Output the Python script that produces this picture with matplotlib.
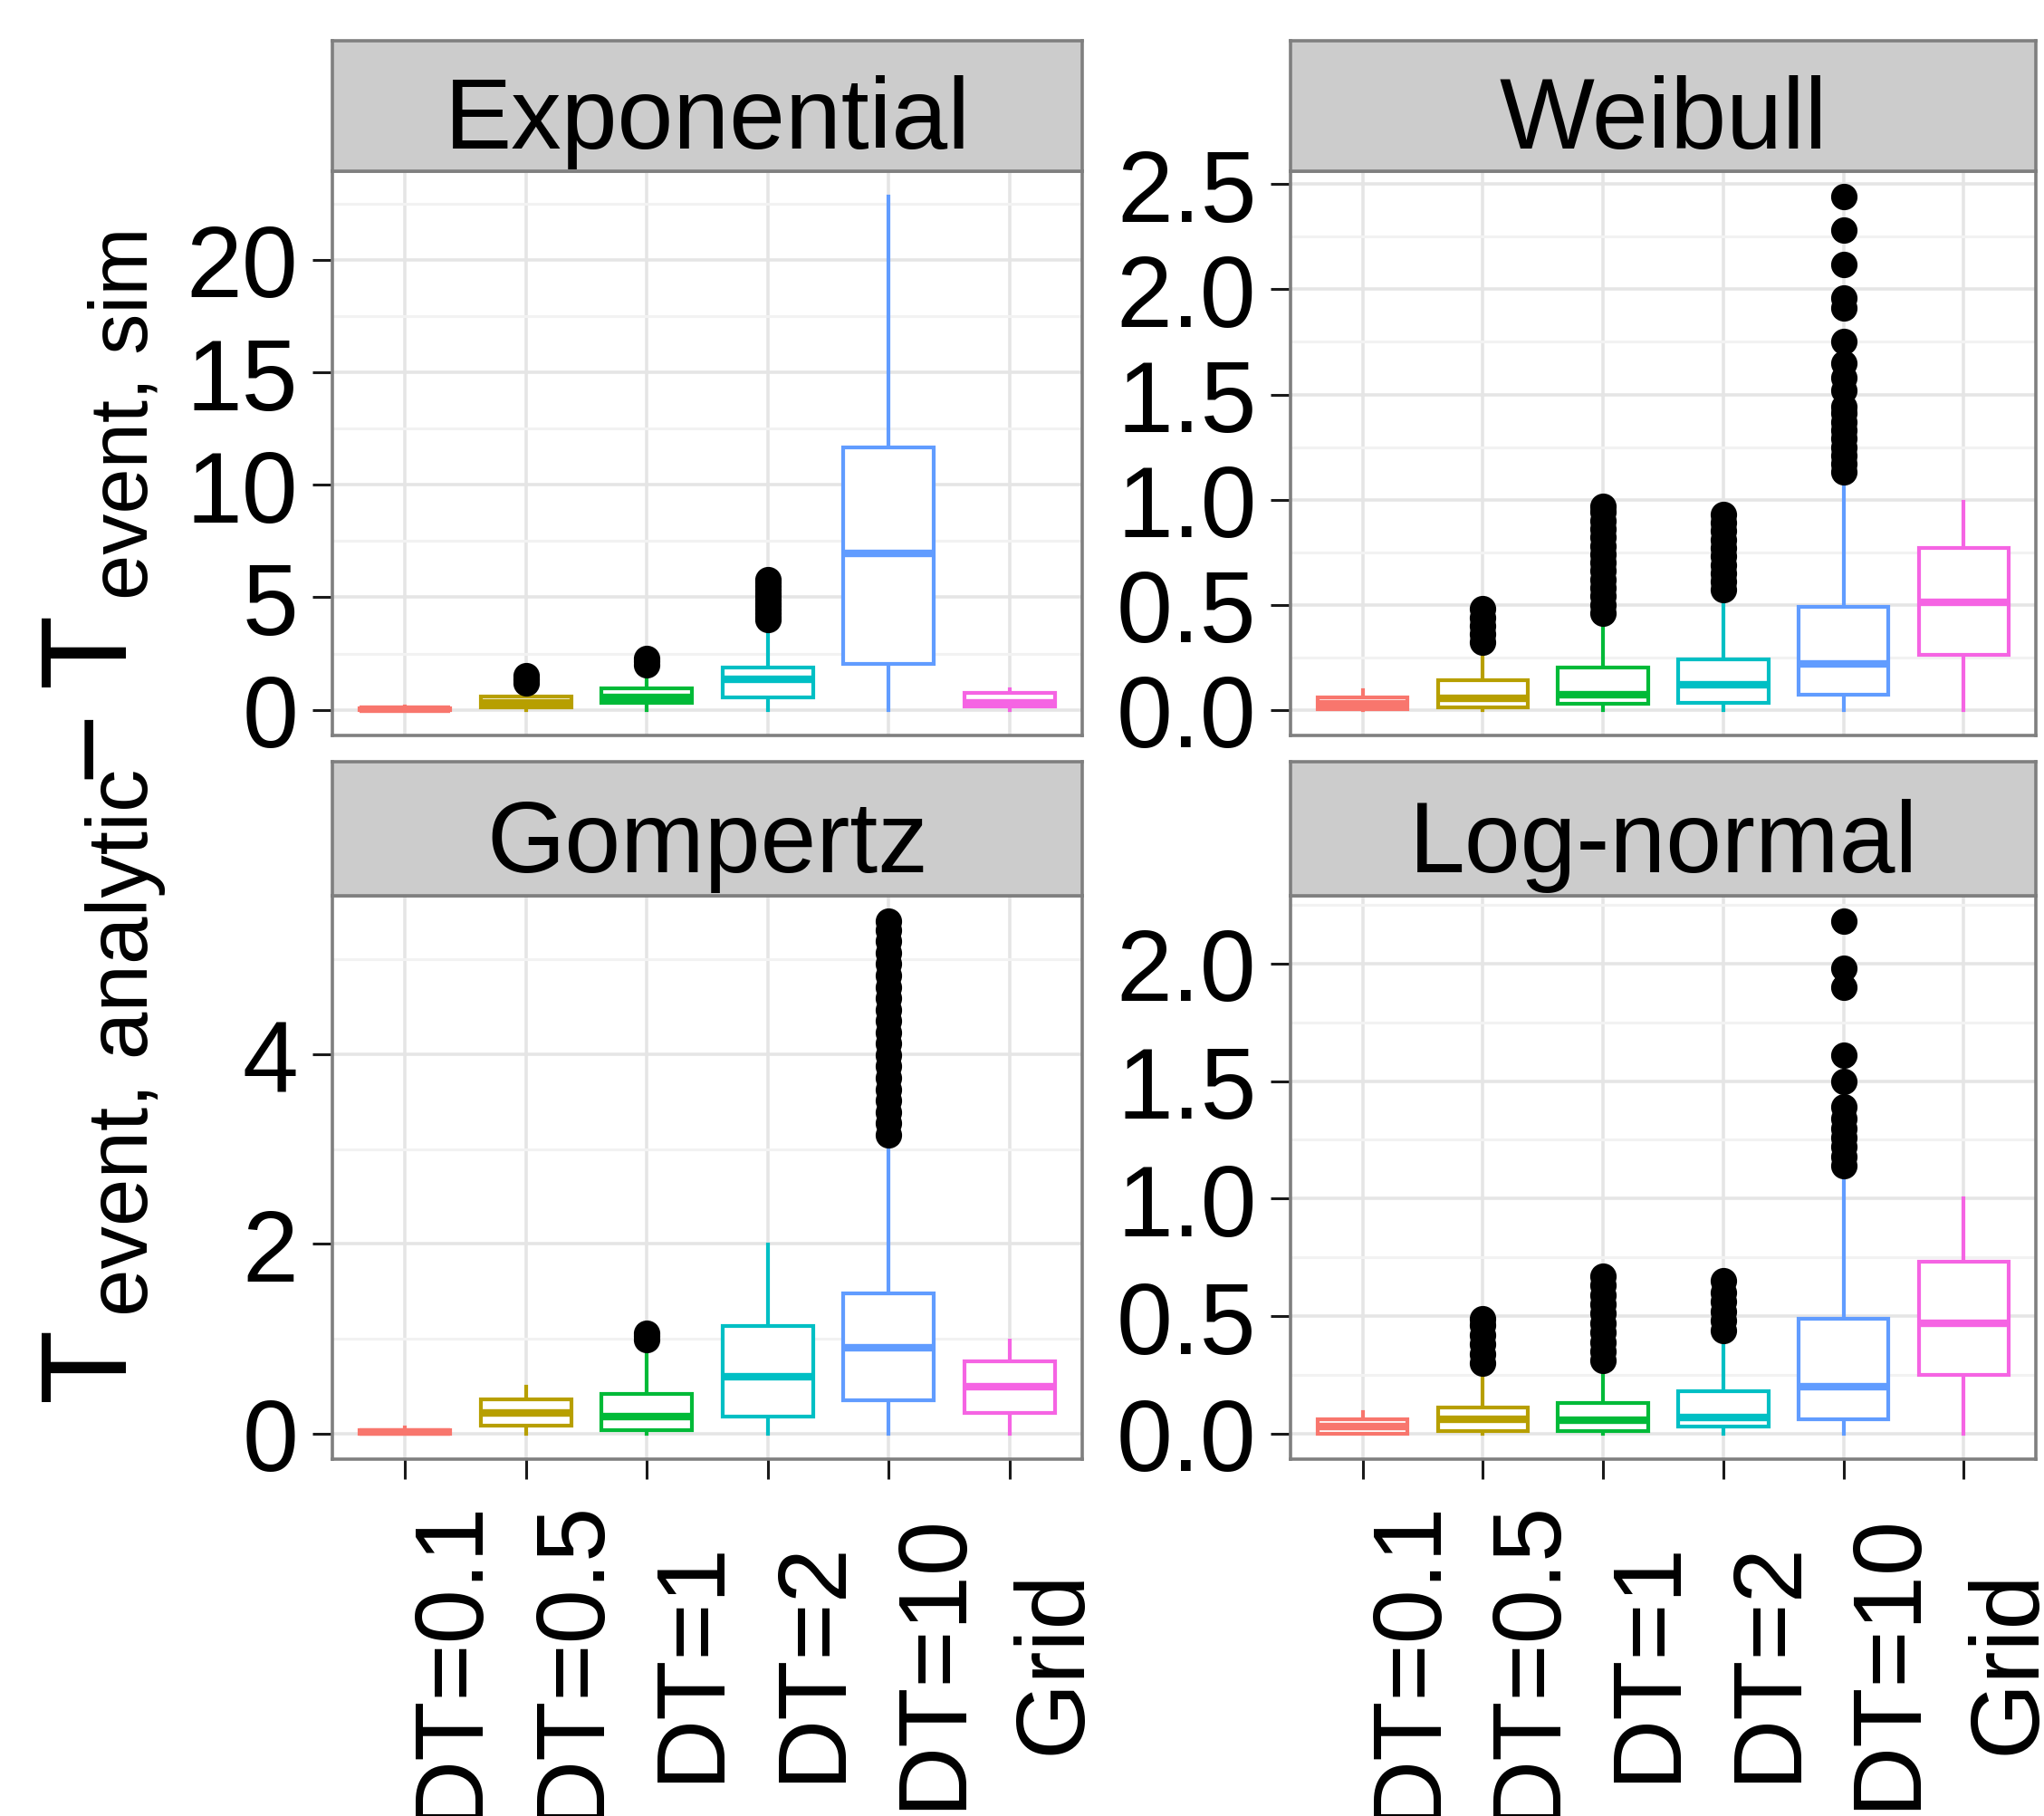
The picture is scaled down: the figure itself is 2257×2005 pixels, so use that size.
import numpy as np
import matplotlib
matplotlib.use('Agg')
import matplotlib.pyplot as plt
from matplotlib.ticker import MultipleLocator

plt.rcParams['font.family'] = ['Liberation Sans', 'DejaVu Sans']

# categories
methods = ['DT=0.1', 'DT=0.5', 'DT=1', 'DT=2', 'DT=10', 'Grid']
colors = ['#F8766D', '#B79F00', '#00BA38', '#00BFC4', '#619CFF', '#F564E3']

# Exponential - box stats per method
exp_q1 = [0.0, 0.12, 0.3, 0.55, 2.03, 0.16]
exp_med = [0.03, 0.3, 0.55, 1.35, 6.96, 0.31]
exp_q3 = [0.08, 0.6, 0.95, 1.89, 11.65, 0.77]
exp_lo = [0, 0, 0, 0, 0, 0]
exp_hi = [0.15, 1.15, 1.9, 3.9, 22.8, 0.9]
exp_out = [[], [1.2, 1.3, 1.4, 1.5], [2.0, 2.15, 2.3],
           [4.0, 4.15, 4.3, 4.45, 4.6, 4.75, 4.9, 5.05, 5.2, 5.35, 5.5, 5.65, 5.8],
           [], []]

# Weibull
wei_q1 = [0.005, 0.01, 0.03, 0.035, 0.07, 0.26]
wei_med = [0.03, 0.056, 0.07, 0.12, 0.22, 0.51]
wei_q3 = [0.06, 0.14, 0.2, 0.24, 0.49, 0.77]
wei_lo = [0, 0, 0, 0, 0, 0]
wei_hi = [0.094, 0.28, 0.44, 0.54, 1.09, 0.99]
wei_out = [[], [0.32, 0.36, 0.40, 0.44, 0.48],
           [0.46, 0.5, 0.54, 0.58, 0.62, 0.66, 0.7, 0.74, 0.78, 0.82, 0.86, 0.9, 0.94, 0.97],
           [0.57, 0.61, 0.65, 0.69, 0.73, 0.77, 0.81, 0.85, 0.89, 0.93],
           [1.13, 1.17, 1.21, 1.25, 1.29, 1.33, 1.37, 1.41, 1.44, 1.52, 1.58, 1.65,
            1.75, 1.91, 1.96, 2.12, 2.28, 2.44],
           []]

# Gompertz
gom_q1 = [0.0, 0.08, 0.04, 0.18, 0.35, 0.22]
gom_med = [0.02, 0.22, 0.18, 0.6, 0.9, 0.49]
gom_q3 = [0.04, 0.36, 0.42, 1.13, 1.48, 0.76]
gom_lo = [0, 0, 0, 0, 0, 0]
gom_hi = [0.06, 0.49, 0.94, 1.99, 3.13, 0.98]
gom_out = [[], [], [0.99, 1.03, 1.06], [],
           [3.15, 3.27, 3.39, 3.51, 3.63, 3.75, 3.87, 3.99, 4.11, 4.23, 4.35, 4.47,
            4.59, 4.71, 4.83, 4.95, 5.07, 5.19, 5.31, 5.4],
           []]

# Log-normal
log_q1 = [0.0, 0.01, 0.01, 0.03, 0.06, 0.25]
log_med = [0.03, 0.06, 0.055, 0.07, 0.2, 0.47]
log_q3 = [0.06, 0.11, 0.13, 0.18, 0.49, 0.73]
log_lo = [0, 0, 0, 0, 0, 0]
log_hi = [0.09, 0.26, 0.27, 0.4, 1.08, 1.0]
log_out = [[], [0.3, 0.34, 0.38, 0.42, 0.46, 0.49],
           [0.31, 0.35, 0.39, 0.43, 0.47, 0.51, 0.55, 0.59, 0.63, 0.67],
           [0.44, 0.48, 0.52, 0.56, 0.6, 0.65],
           [1.14, 1.18, 1.22, 1.26, 1.3, 1.34, 1.39, 1.5, 1.61, 1.9, 1.98, 2.18],
           []]

panels = [
    ('Exponential', exp_q1, exp_med, exp_q3, exp_lo, exp_hi, exp_out, [0, 5, 10, 15, 20], '%d'),
    ('Weibull', wei_q1, wei_med, wei_q3, wei_lo, wei_hi, wei_out, [0, 0.5, 1, 1.5, 2, 2.5], '%.1f'),
    ('Gompertz', gom_q1, gom_med, gom_q3, gom_lo, gom_hi, gom_out, [0, 2, 4], '%d'),
    ('Log-normal', log_q1, log_med, log_q3, log_lo, log_hi, log_out, [0, 0.5, 1, 1.5, 2], '%.1f'),
]

W, H = 2257, 2006
fig = plt.figure(figsize=(W / 100, H / 100), dpi=100)

# panel rectangles in pixels: (left, right, strip_top, strip_bottom, panel_bottom)
rects = [(367, 1195, 46, 190, 813), (1425, 2248, 46, 190, 813),
         (367, 1195, 842, 990, 1612), (1425, 2248, 842, 990, 1612)]

for i, (name, q1, med, q3, lo, hi, out, yticks, fmt) in enumerate(panels):
    l, r, st, sb, pb = rects[i]
    ax = fig.add_axes([l / W, 1 - pb / H, (r - l) / W, (pb - sb) / H])
    sax = fig.add_axes([l / W, 1 - sb / H, (r - l) / W, (sb - st) / H])

    stats = []
    for j in range(len(methods)):
        stats.append(dict(med=med[j], q1=q1[j], q3=q3[j], whislo=lo[j], whishi=hi[j],
                          fliers=np.array(out[j])))
    pos = np.arange(1, len(methods) + 1)
    bp = ax.bxp(stats, positions=pos, widths=0.75, showcaps=False, patch_artist=True,
                flierprops=dict(marker='o', markerfacecolor='black', markeredgecolor='black',
                                markersize=20, linestyle='none'))
    for j, c in enumerate(colors):
        bp['boxes'][j].set(facecolor='white', edgecolor=c, linewidth=3, zorder=3)
        bp['medians'][j].set(color=c, linewidth=6, solid_capstyle='butt', zorder=4)
        for w in bp['whiskers'][2 * j:2 * j + 2]:
            w.set(color=c, linewidth=3, zorder=2)
        bp['fliers'][j].set(zorder=5)

    # ggplot-like y range with 5% expansion
    ymin = min(min(lo), min(min(o) if o else 0 for o in out))
    ymax = max(max(hi), max(max(o) if o else 0 for o in out))
    pad = (ymax - ymin) * 0.05
    ax.set_ylim(ymin - pad, ymax + pad)
    ax.set_xlim(0.4, 6.6)

    ax.set_yticks(yticks)
    ax.set_yticklabels([fmt % v for v in yticks])
    ax.yaxis.set_minor_locator(MultipleLocator((yticks[1] - yticks[0]) / 2))
    ax.set_xticks(pos)
    ax.set_axisbelow(True)
    ax.grid(True, which='major', color='#E5E5E5', linewidth=2.6)
    ax.grid(True, which='minor', axis='y', color='#F2F2F2', linewidth=2.2)
    for s in ax.spines.values():
        s.set_color('#7F7F7F')
        s.set_linewidth(2.6)
        s.set_zorder(6)
    ax.tick_params(axis='y', which='major', length=16, width=2.2, color='#1A1A1A',
                   labelsize=80, pad=11)
    ax.tick_params(axis='y', which='minor', length=0)
    if i < 2:
        ax.tick_params(axis='x', bottom=False, labelbottom=False)
    else:
        ax.set_xticklabels(methods, rotation=90, ha='left', va='center')
        ax.tick_params(axis='x', length=16, width=2.2, color='#1A1A1A',
                       labelsize=78, pad=144)

    sax.set_facecolor('#CCCCCC')
    sax.set_xticks([])
    sax.set_yticks([])
    for s in sax.spines.values():
        s.set_color('#7F7F7F')
        s.set_linewidth(2.6)
    sax.text(0.5, 0.18, name, ha='center', va='baseline', fontsize=80,
             transform=sax.transAxes)

# y-axis label: T_{event, analytic} - T_{event, sim}, built from pieces
ylab_text = ['T', 'event, analytic', '\u2212', 'T', 'event, sim']
ylab_size = [97, 68, 97, 97, 65]
ylab_base = [137, 163, 137, 137, 163]     # baseline x in pixels
ylab_start = [1547, 1453, 860, 758, 662]  # start y in pixels (text runs upward)
for s, fs, bx, sy in zip(ylab_text, ylab_size, ylab_base, ylab_start):
    fig.text(bx / W, 1 - sy / H, s, rotation=90, rotation_mode='anchor',
             ha='left', va='baseline', fontsize=fs)

fig.savefig('out.png', dpi=100)
